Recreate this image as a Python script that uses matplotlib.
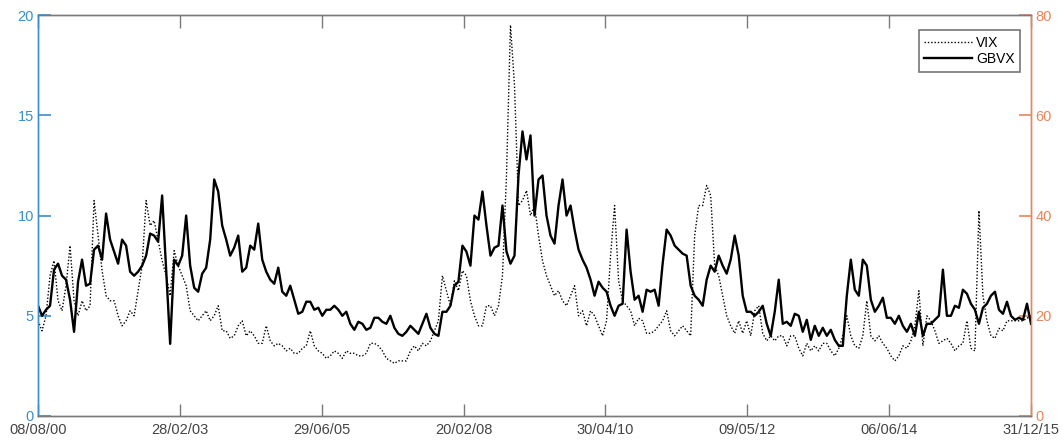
import numpy as np
import matplotlib
matplotlib.use("Agg")
import matplotlib.pyplot as plt

plt.rcParams['font.family'] = ['Liberation Sans', 'DejaVu Sans']

# tick labels (dates) spread evenly over the trading-day index
date_labels = ['08/08/00', '28/02/03', '29/06/05', '20/02/08',
               '30/04/10', '09/05/12', '06/06/14', '31/12/15']

# GBVX (left axis)
gbvx = [
    5.5, 5.0, 5.3, 5.5, 7.3, 7.6, 7.0, 6.8, 5.8, 4.2,
    6.7, 7.8, 6.5, 6.6, 8.3, 8.5, 7.8, 10.1, 8.8, 8.2,
    7.6, 8.8, 8.5, 7.2, 7.0, 7.2, 7.5, 8.0, 9.1, 9.0,
    8.7, 11.0, 7.3, 3.6, 7.8, 7.5, 8.0, 10.0, 7.5, 6.4,
    6.2, 7.1, 7.4, 8.8, 11.8, 11.2, 9.5, 8.8, 8.0, 8.4,
    9.0, 7.2, 7.4, 8.5, 8.3, 9.6, 7.8, 7.2, 6.8, 6.6,
    7.4, 6.2, 6.0, 6.5, 5.8, 5.1, 5.2, 5.7, 5.7, 5.3,
    5.4, 5.0, 5.3, 5.3, 5.5, 5.3, 5.0, 5.2, 4.6, 4.3,
    4.7, 4.6, 4.3, 4.4, 4.9, 4.9, 4.7, 4.6, 5.0, 4.4,
    4.1, 4.0, 4.2, 4.5, 4.3, 4.1, 4.6, 5.1, 4.4, 4.1,
    4.0, 5.2, 5.2, 5.5, 6.5, 6.7, 8.5, 8.2, 7.5, 10.0,
    9.8, 11.2, 9.5, 8.0, 8.4, 8.5, 10.5, 8.2, 7.6, 8.0,
    12.0, 14.2, 12.8, 14.0, 10.0, 11.8, 12.0, 10.0, 9.0, 8.6,
    10.5, 11.8, 10.0, 10.5, 9.3, 8.3, 7.8, 7.4, 6.8, 6.0,
    6.7, 6.4, 6.2, 5.5, 5.0, 5.5, 5.6, 9.3, 7.2, 5.8,
    6.0, 5.2, 6.3, 6.2, 6.3, 5.5, 7.6, 9.3, 9.0, 8.5,
    8.3, 8.1, 8.0, 6.5, 6.0, 5.8, 5.5, 6.8, 7.5, 7.2,
    8.0, 7.5, 7.1, 7.8, 9.0, 8.0, 6.0, 5.2, 5.2, 5.0,
    5.2, 5.5, 4.6, 4.0, 5.2, 6.8, 4.6, 4.7, 4.5, 5.1,
    5.0, 4.2, 4.8, 3.8, 4.5, 4.0, 4.4, 4.0, 4.3, 3.8,
    3.5, 3.5, 6.0, 7.8, 6.3, 6.0, 7.8, 7.5, 5.8, 5.2,
    5.5, 5.9, 4.9, 4.9, 4.6, 5.0, 4.5, 4.2, 4.6, 4.0,
    5.2, 4.0, 4.6, 4.6, 4.8, 5.0, 7.3, 5.0, 5.0, 5.5,
    5.4, 6.3, 6.1, 5.6, 5.3, 4.6, 5.4, 5.6, 6.0, 6.2,
    5.3, 5.1, 5.7, 5.0, 4.8, 4.9, 4.8, 5.6, 4.6,
]

# VIX (right axis)
vix = [
    19, 17, 20, 28, 31, 23, 21, 26, 34, 23,
    20, 23, 21, 22, 43, 36, 29, 24, 23, 23,
    20, 18, 19, 21, 20, 25, 30, 43, 38, 39,
    35, 31, 28, 24, 33, 30, 28, 26, 21, 20,
    19, 20, 21, 19, 20, 22, 17, 17, 15.5, 16,
    18, 19, 16, 17, 16, 14.5, 14.5, 18, 15, 14,
    14.5, 14, 13, 13.5, 12.5, 12.5, 13.5, 14, 17, 14,
    13, 12.5, 11.5, 12, 13, 12.5, 11.5, 13, 12.5, 12.5,
    12, 12, 12.5, 14.5, 14.5, 14, 13, 11.5, 11, 10.5,
    11, 11, 11, 13, 14, 13, 14.5, 14, 15, 17,
    19, 28, 25, 22, 27, 25, 29, 28, 23, 20,
    18, 18, 22, 22, 20, 22, 28, 48, 78, 66,
    42, 43, 45, 40, 42, 36, 31, 28, 26, 24,
    25, 23, 22, 24, 26, 20, 21, 18, 21, 20,
    18, 16, 19, 32, 42, 27, 23, 22, 21, 18,
    19.5, 19, 16.5, 16.5, 17, 18, 19, 21, 17, 16,
    17, 18, 17, 16, 36, 42, 42, 46, 44, 30,
    28, 24, 20, 18, 16.5, 19, 16.5, 19, 16, 21,
    22, 16.5, 15, 16, 15, 16, 16, 14, 16, 16,
    13.5, 12, 14.5, 13, 14, 13, 14.5, 14.5, 13, 12,
    13.5, 16, 20, 16, 14, 13.5, 16, 23, 16, 15,
    16, 14.5, 13.5, 12, 11, 12, 14, 13.5, 15, 18,
    25, 14, 20, 19, 17, 14.5, 15, 15.5, 14.5, 13,
    14, 14.5, 19, 13.5, 13, 41, 24, 19, 16, 15.5,
    17.5, 17, 19, 19, 19, 19, 19, 19.5, 20,
]

BLUE = '#3b8ed0'
ORANGE = '#e8865a'
GREY = '#7a7a7a'

t = np.arange(len(gbvx))

fig = plt.figure(figsize=(10.62, 4.41), dpi=100)
ax = fig.add_axes([0.0358, 0.0567, 0.935, 0.909])
ax2 = ax.twinx()

l_gbvx, = ax.plot(t, gbvx, color='black', lw=1.7, label='GBVX')
l_vix, = ax2.plot(t, vix, color='black', lw=1.0, ls=(0, (1, 1.4)), label='VIX')

ax.set_xlim(0, len(gbvx) - 1)
ax.set_ylim(0, 20)
ax2.set_ylim(0, 80)
ax.set_yticks([0, 5, 10, 15, 20])
ax2.set_yticks([0, 20, 40, 60, 80])
ax.set_xticks(np.linspace(0, len(gbvx) - 1, len(date_labels)))
ax.set_xticklabels(date_labels)

for a in (ax, ax2):
    a.spines['top'].set_color(GREY)
    a.spines['bottom'].set_color(GREY)
    a.spines['left'].set_color(BLUE)
    a.spines['right'].set_color(ORANGE)
    for s in a.spines.values():
        s.set_linewidth(1.0)

ax.tick_params(axis='x', direction='in', length=9, width=1, color=GREY,
               labelcolor='#444444', labelsize=10.5, pad=5, top=True)
ax.tick_params(axis='y', direction='in', length=9, width=1.2, color=BLUE,
               labelcolor=BLUE, labelsize=10.5, pad=3)
ax2.tick_params(axis='y', direction='in', length=9, width=1.2, color=ORANGE,
                labelcolor=ORANGE, labelsize=10.5, pad=3)

leg = ax.legend([l_vix, l_gbvx], ['VIX', 'GBVX'], loc='upper right',
                bbox_to_anchor=(0.989, 0.963), fontsize=10, frameon=True,
                fancybox=False, handlelength=3.4, handletextpad=0.3,
                borderpad=0.4, labelspacing=0.2, borderaxespad=0)
leg.get_frame().set_edgecolor('#555555')
leg.get_frame().set_linewidth(1.2)
leg.set_zorder(5)
ax.set_zorder(ax2.get_zorder() + 1)
ax.patch.set_visible(False)

fig.savefig('out.png', dpi=100)
